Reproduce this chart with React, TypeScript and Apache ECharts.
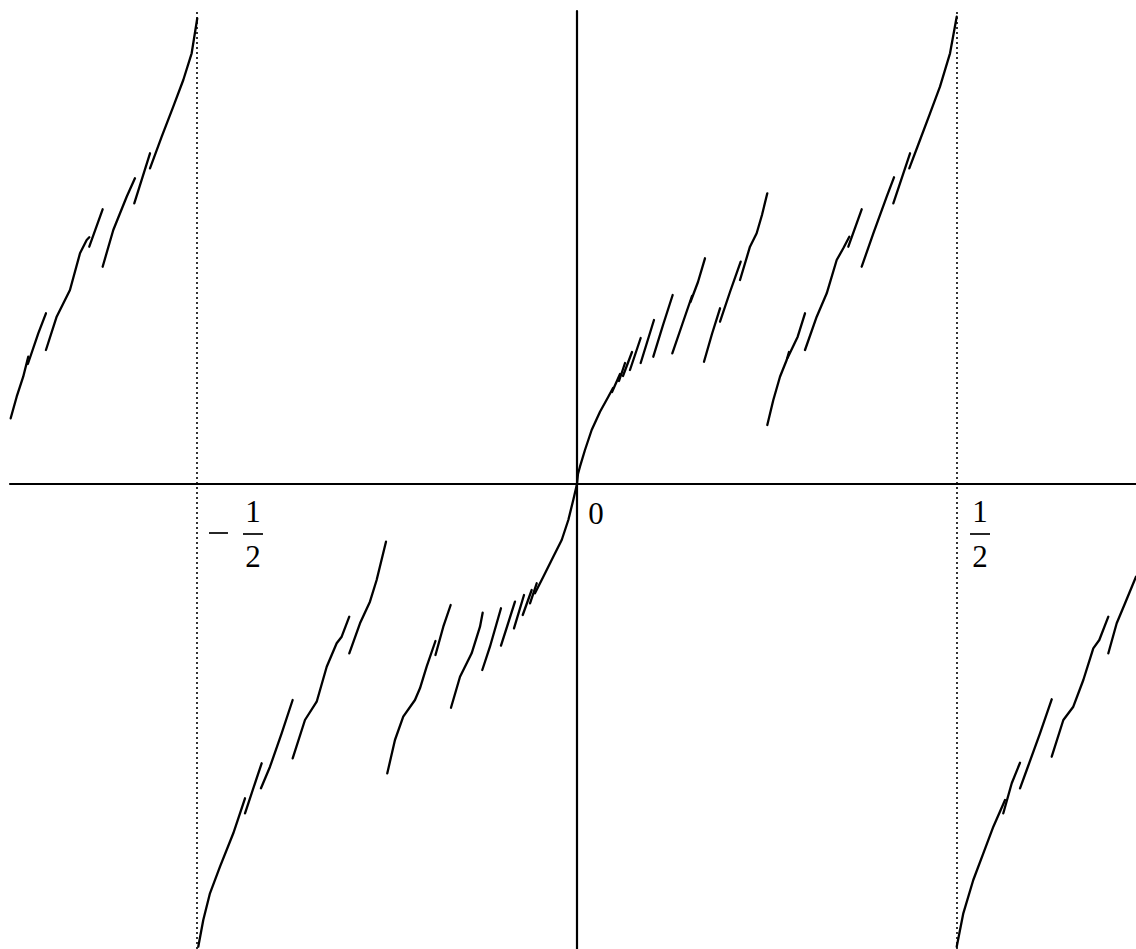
import React, { useEffect, useRef } from "react";
import * as echarts from "echarts";

// axis ranges
const X_MIN = -0.746;
const X_MAX = 0.7355;
const Y_MIN = -4.65;
const Y_MAX = 4.73;

// tick labels
const tickLabels = [
  { x: -0.5, num: "1", den: "2", neg: true },
  { x: 0, num: "0", den: "", neg: false },
  { x: 0.5, num: "1", den: "2", neg: false },
];
const dottedLines = [-0.5, 0.5];

// curve pieces: each piece is a list of continuous segments [x, y]
const pieceUpperLeft: number[][][] = [
  [[-0.7451, 0.657], [-0.7372, 0.873], [-0.7286, 1.073], [-0.722, 1.273]],
  [[-0.7225, 1.2], [-0.7088, 1.507], [-0.6987, 1.707]],
  [[-0.6987, 1.34], [-0.6846, 1.673], [-0.6671, 1.94], [-0.6539, 2.307], [-0.6451, 2.44], [-0.6417, 2.467]],
  [[-0.6417, 2.373], [-0.6241, 2.747]],
  [[-0.6241, 2.173], [-0.6101, 2.54], [-0.5925, 2.873], [-0.5816, 3.057]],
  [[-0.5825, 2.807], [-0.5618, 3.307]],
  [[-0.5618, 3.157], [-0.5464, 3.473], [-0.5312, 3.773], [-0.518, 4.04], [-0.507, 4.307], [-0.4996, 4.657]],
];

const pieceLowerLeft: number[][][] = [
  [[-0.4983, -4.627], [-0.4917, -4.36], [-0.4829, -4.093], [-0.4697, -3.827], [-0.4522, -3.493], [-0.4434, -3.293], [-0.4368, -3.143]],
  [[-0.4368, -3.293], [-0.4237, -2.993], [-0.4149, -2.793]],
  [[-0.4158, -3.043], [-0.4039, -2.827], [-0.3886, -2.493], [-0.3741, -2.16]],
  [[-0.3741, -2.743], [-0.3579, -2.36], [-0.3425, -2.177], [-0.3293, -1.827], [-0.3162, -1.593], [-0.3096, -1.527], [-0.2996, -1.327]],
  [[-0.2996, -1.693], [-0.2855, -1.393], [-0.2724, -1.177], [-0.2636, -0.96], [-0.2513, -0.577]],
];

const pieceLowerMid: number[][][] = [
  [[-0.2496, -2.893], [-0.2395, -2.56], [-0.2286, -2.327], [-0.2132, -2.16], [-0.2066, -2.043], [-0.1978, -1.827], [-0.1862, -1.57]],
  [[-0.1862, -1.71], [-0.1759, -1.427], [-0.1662, -1.21]],
  [[-0.1658, -2.237], [-0.1539, -1.927], [-0.1386, -1.693], [-0.1276, -1.427], [-0.1241, -1.287]],
  [[-0.1246, -1.86], [-0.1145, -1.627], [-0.1, -1.243]],
  [[-0.1, -1.617], [-0.0816, -1.177]],
  [[-0.0829, -1.443], [-0.0697, -1.11]],
  [[-0.0714, -1.31], [-0.0596, -1.06]],
  [[-0.0618, -1.193], [-0.053, -0.993]],
  [[-0.0553, -1.093], [-0.0443, -0.927], [-0.0312, -0.727], [-0.0201, -0.56], [-0.0114, -0.36], [-0.0049, -0.16], [0, 0]],
];

const pieceUpperMid: number[][][] = [
  [[0, 0], [0.0013, 0.1], [0.0039, 0.173], [0.0105, 0.34], [0.0193, 0.54], [0.0303, 0.723], [0.0412, 0.873], [0.0474, 0.96]],
  [[0.0461, 0.92], [0.0566, 1.1]],
  [[0.0553, 1.03], [0.0632, 1.21]],
  [[0.0605, 1.08], [0.0724, 1.32]],
  [[0.0697, 1.14], [0.0838, 1.46]],
  [[0.0838, 1.21], [0.1013, 1.64]],
  [[0.1004, 1.273], [0.1132, 1.59], [0.1259, 1.89]],
  [[0.1254, 1.307], [0.1382, 1.59], [0.1513, 1.88]],
  [[0.1493, 1.82], [0.1592, 2.02], [0.1684, 2.257]],
  [[0.1671, 1.223], [0.1776, 1.5], [0.1882, 1.757]],
  [[0.1882, 1.623], [0.2013, 1.92], [0.2154, 2.223]],
  [[0.2145, 2.04], [0.2276, 2.373], [0.2364, 2.507], [0.2434, 2.69], [0.2504, 2.907]],
];

const pieceUpperRight: number[][][] = [
  [[0.2504, 0.59], [0.2583, 0.84], [0.2671, 1.073], [0.2759, 1.24], [0.2789, 1.32]],
  [[0.277, 1.26], [0.2904, 1.473], [0.3, 1.707]],
  [[0.3, 1.34], [0.3154, 1.673], [0.3286, 1.907], [0.3417, 2.24], [0.3504, 2.357], [0.3583, 2.473]],
  [[0.357, 2.373], [0.3746, 2.747]],
  [[0.3746, 2.173], [0.3899, 2.507], [0.4075, 2.873], [0.4171, 3.067]],
  [[0.4162, 2.807], [0.4382, 3.307]],
  [[0.4372, 3.157], [0.4513, 3.44], [0.4645, 3.707], [0.4776, 3.973], [0.4908, 4.307], [0.4996, 4.673]],
];

const pieceLowerRight: number[][][] = [
  [[0.4996, -4.627], [0.5083, -4.293], [0.5214, -3.96], [0.5346, -3.693], [0.5478, -3.427], [0.5632, -3.16]],
  [[0.5609, -3.293], [0.572, -2.993], [0.5829, -2.787]],
  [[0.5829, -3.043], [0.5917, -2.86], [0.6092, -2.493], [0.6246, -2.153]],
  [[0.6246, -2.727], [0.6399, -2.36], [0.653, -2.227], [0.6662, -1.96], [0.6793, -1.643], [0.6872, -1.56], [0.6991, -1.327]],
  [[0.6991, -1.693], [0.7101, -1.393], [0.7211, -1.193], [0.7355, -0.927]],
];

const pieces = [pieceUpperLeft, pieceLowerLeft, pieceLowerMid, pieceUpperMid, pieceUpperRight, pieceLowerRight];

export default function App() {
  const ref = useRef<HTMLDivElement>(null);
  useEffect(() => {
    if (!ref.current) return;
    const chart = echarts.init(ref.current, null, { renderer: "svg" });
    const segs = pieces.flat();
    const series: any[] = segs.map((seg) => ({
      type: "line",
      data: seg,
      showSymbol: false,
      symbol: "none",
      silent: true,
      lineStyle: { color: "#000", width: 2.3, join: "round", cap: "round" },
      z: 3,
    }));
    series[0].markLine = {
      silent: true,
      symbol: ["none", "none"],
      label: { show: false },
      lineStyle: { color: "#000", width: 1.6, type: [2, 3] },
      data: dottedLines.map((x) => ({ xAxis: x })),
    };
    const axisCommon = {
      type: "value",
      axisLine: { show: true, onZero: true, lineStyle: { color: "#000", width: 2.2 } },
      axisTick: { show: false },
      axisLabel: { show: false },
      splitLine: { show: false },
    };
    chart.setOption({
      animation: false,
      backgroundColor: "#fff",
      grid: { left: 10, right: 0, top: 11, bottom: 0, containLabel: false },
      xAxis: { ...axisCommon, min: X_MIN, max: X_MAX },
      yAxis: { ...axisCommon, min: Y_MIN, max: Y_MAX },
      series,
    });

    const font = "Liberation Serif";
    const fs = 31;
    const graphics: any[] = [];
    tickLabels.forEach((t) => {
      const [px, py] = chart.convertToPixel({ gridIndex: 0 }, [t.x, 0]) as number[];
      if (t.den === "") {
        graphics.push({
          type: "text",
          style: { x: px + 19, y: py + 29, text: t.num, font: `${fs}px '${font}'`, fill: "#000", textAlign: "center", textVerticalAlign: "middle" },
        });
        return;
      }
      const cx = t.neg ? px + 56 : px + 23;
      if (t.neg) {
        graphics.push({ type: "line", shape: { x1: px + 12, y1: py + 49, x2: px + 31, y2: py + 49 }, style: { stroke: "#000", lineWidth: 1.7 } });
      }
      graphics.push({
        type: "text",
        style: { x: cx, y: py + 27, text: t.num, font: `${fs}px '${font}'`, fill: "#000", textAlign: "center", textVerticalAlign: "middle" },
      });
      graphics.push({ type: "line", shape: { x1: cx - 10, y1: py + 50, x2: cx + 10, y2: py + 50 }, style: { stroke: "#000", lineWidth: 1.7 } });
      graphics.push({
        type: "text",
        style: { x: cx, y: py + 72, text: t.den, font: `${fs}px '${font}'`, fill: "#000", textAlign: "center", textVerticalAlign: "middle" },
      });
    });
    chart.setOption({ graphic: graphics });
    return () => chart.dispose();
  }, []);
  return <div ref={ref} style={{ position: "absolute", left: 0, top: 0, width: 1136, height: 949, background: "#fff" }} />;
}
